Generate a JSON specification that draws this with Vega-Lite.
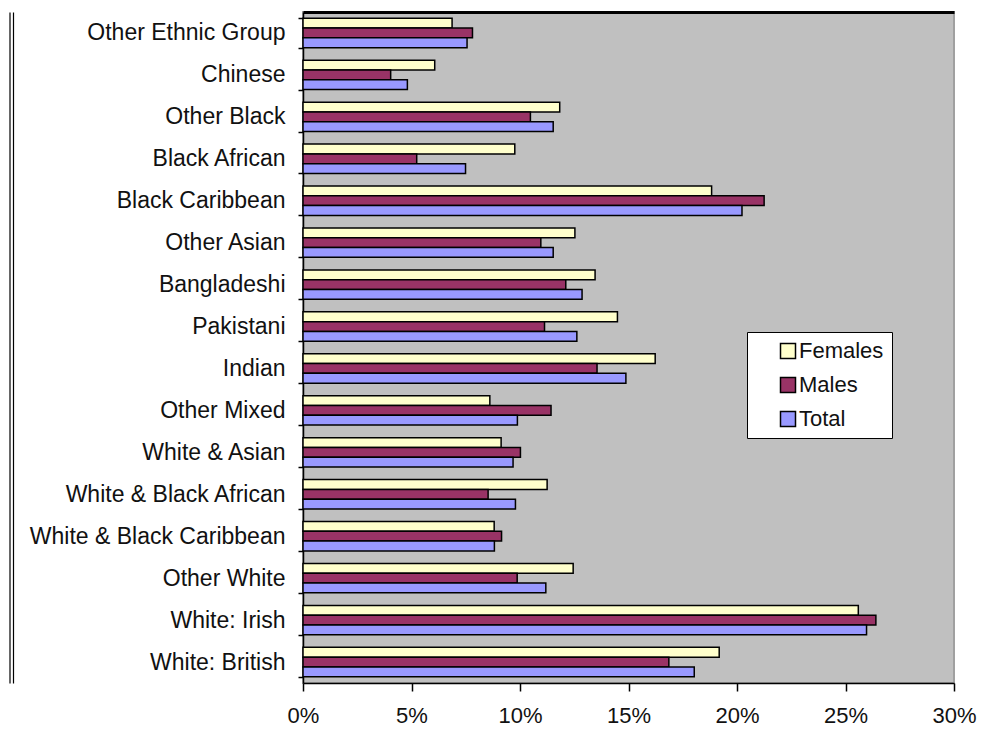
{
  "$schema": "https://vega.github.io/schema/vega-lite/v6.json",
  "width": 651,
  "height": 671,
  "autosize": {"type": "none"},
  "padding": {"left": 303, "top": 12, "right": 38, "bottom": 49},
  "background": "white",
  "config": {
    "view": {"fill": "#C0C0C0", "stroke": "#A0A0A0", "strokeWidth": 2},
    "font": "Liberation Sans"
  },
  "data": {
    "values": [
      {"group": "Other Ethnic Group", "series": "Females", "value": 0.0687},
      {"group": "Other Ethnic Group", "series": "Males", "value": 0.0781},
      {"group": "Other Ethnic Group", "series": "Total", "value": 0.0756},
      {"group": "Chinese", "series": "Females", "value": 0.0607},
      {"group": "Chinese", "series": "Males", "value": 0.0404},
      {"group": "Chinese", "series": "Total", "value": 0.0481},
      {"group": "Other Black", "series": "Females", "value": 0.1183},
      {"group": "Other Black", "series": "Males", "value": 0.1048},
      {"group": "Other Black", "series": "Total", "value": 0.1153},
      {"group": "Black African", "series": "Females", "value": 0.0976},
      {"group": "Black African", "series": "Males", "value": 0.0524},
      {"group": "Black African", "series": "Total", "value": 0.0749},
      {"group": "Black Caribbean", "series": "Females", "value": 0.1883},
      {"group": "Black Caribbean", "series": "Males", "value": 0.2125},
      {"group": "Black Caribbean", "series": "Total", "value": 0.2023},
      {"group": "Other Asian", "series": "Females", "value": 0.1253},
      {"group": "Other Asian", "series": "Males", "value": 0.1096},
      {"group": "Other Asian", "series": "Total", "value": 0.1153},
      {"group": "Bangladeshi", "series": "Females", "value": 0.1346},
      {"group": "Bangladeshi", "series": "Males", "value": 0.1211},
      {"group": "Bangladeshi", "series": "Total", "value": 0.1286},
      {"group": "Pakistani", "series": "Females", "value": 0.1449},
      {"group": "Pakistani", "series": "Males", "value": 0.1113},
      {"group": "Pakistani", "series": "Total", "value": 0.1262},
      {"group": "Indian", "series": "Females", "value": 0.1623},
      {"group": "Indian", "series": "Males", "value": 0.1355},
      {"group": "Indian", "series": "Total", "value": 0.1488},
      {"group": "Other Mixed", "series": "Females", "value": 0.0861},
      {"group": "Other Mixed", "series": "Males", "value": 0.1143},
      {"group": "Other Mixed", "series": "Total", "value": 0.0988},
      {"group": "White & Asian", "series": "Females", "value": 0.0913},
      {"group": "White & Asian", "series": "Males", "value": 0.1002},
      {"group": "White & Asian", "series": "Total", "value": 0.0968},
      {"group": "White & Black African", "series": "Females", "value": 0.1125},
      {"group": "White & Black African", "series": "Males", "value": 0.0853},
      {"group": "White & Black African", "series": "Total", "value": 0.0979},
      {"group": "White & Black Caribbean", "series": "Females", "value": 0.0881},
      {"group": "White & Black Caribbean", "series": "Males", "value": 0.0915},
      {"group": "White & Black Caribbean", "series": "Total", "value": 0.0882},
      {"group": "Other White", "series": "Females", "value": 0.1245},
      {"group": "Other White", "series": "Males", "value": 0.0987},
      {"group": "Other White", "series": "Total", "value": 0.1119},
      {"group": "White: Irish", "series": "Females", "value": 0.2559},
      {"group": "White: Irish", "series": "Males", "value": 0.2640},
      {"group": "White: Irish", "series": "Total", "value": 0.2597},
      {"group": "White: British", "series": "Females", "value": 0.1918},
      {"group": "White: British", "series": "Males", "value": 0.1686},
      {"group": "White: British", "series": "Total", "value": 0.1803}
    ]
  },
  "encoding": {
    "y": {
      "field": "group",
      "type": "nominal",
      "sort": ["Other Ethnic Group", "Chinese", "Other Black", "Black African", "Black Caribbean", "Other Asian", "Bangladeshi", "Pakistani", "Indian", "Other Mixed", "White & Asian", "White & Black African", "White & Black Caribbean", "Other White", "White: Irish", "White: British"],
      "scale": {"paddingInner": 0.3, "paddingOuter": 0.15}
    },
    "x": {
      "field": "value",
      "type": "quantitative",
      "scale": {"domain": [0, 0.3], "nice": false, "zero": true}
    }
  },
  "layer": [
    {
      "mark": {"type": "bar", "opacity": 0},
      "encoding": {
        "x": {
          "field": "value",
          "type": "quantitative",
          "axis": {"orient": "top", "labels": false, "ticks": false, "grid": false, "domainColor": "black", "domainWidth": 3, "title": null}
        },
        "y": {
          "field": "group",
          "type": "nominal",
          "sort": ["Other Ethnic Group", "Chinese", "Other Black", "Black African", "Black Caribbean", "Other Asian", "Bangladeshi", "Pakistani", "Indian", "Other Mixed", "White & Asian", "White & Black African", "White & Black Caribbean", "Other White", "White: Irish", "White: British"],
          "axis": {"orient": "left", "offset": 290, "labels": false, "ticks": false, "grid": false, "domainColor": "black", "domainWidth": 1.2, "title": null}
        }
      }
    },
    {
      "mark": {"type": "bar", "opacity": 0},
      "encoding": {
        "x": {"field": "value", "type": "quantitative", "axis": null},
        "y": {
          "field": "group",
          "type": "nominal",
          "sort": ["Other Ethnic Group", "Chinese", "Other Black", "Black African", "Black Caribbean", "Other Asian", "Bangladeshi", "Pakistani", "Indian", "Other Mixed", "White & Asian", "White & Black African", "White & Black Caribbean", "Other White", "White: Irish", "White: British"],
          "axis": {"orient": "left", "offset": 293.5, "labels": false, "ticks": false, "grid": false, "domainColor": "black", "domainWidth": 1.2, "title": null}
        }
      }
    },
    {
      "mark": {"type": "bar", "stroke": "black", "strokeWidth": 1.5},
      "encoding": {
        "x": {
          "field": "value",
          "type": "quantitative",
          "axis": {
            "orient": "bottom",
            "title": null,
            "format": ".0%",
            "values": [0, 0.05, 0.1, 0.15, 0.2, 0.25, 0.3],
            "grid": false,
            "domainColor": "black",
            "domainWidth": 1.5,
            "tickColor": "black",
            "tickWidth": 1.5,
            "tickSize": 8,
            "labelFontSize": 22,
            "labelColor": "#111111",
            "labelPadding": 14,
            "labelFlush": false
          }
        },
        "y": {
          "field": "group",
          "type": "nominal",
          "sort": ["Other Ethnic Group", "Chinese", "Other Black", "Black African", "Black Caribbean", "Other Asian", "Bangladeshi", "Pakistani", "Indian", "Other Mixed", "White & Asian", "White & Black African", "White & Black Caribbean", "Other White", "White: Irish", "White: British"],
          "axis": {
            "orient": "left",
            "title": null,
            "tickBand": "extent",
            "tickSize": 5,
            "tickColor": "black",
            "tickWidth": 1.5,
            "domainColor": "black",
            "domainWidth": 1.5,
            "labelFontSize": 23,
            "labelColor": "#111111",
            "labelPadding": 13,
            "labelLimit": 400
          }
        },
        "yOffset": {
          "field": "series",
          "type": "nominal",
          "sort": ["Females", "Males", "Total"],
          "scale": {"paddingInner": 0, "paddingOuter": 0}
        },
        "color": {
          "field": "series",
          "type": "nominal",
          "sort": ["Females", "Males", "Total"],
          "scale": {"domain": ["Females", "Males", "Total"], "range": ["#FFFFCC", "#993366", "#9999FF"]},
          "legend": {
            "title": null,
            "orient": "none",
            "legendX": 444,
            "legendY": 320,
            "fillColor": "white",
            "strokeColor": "black",
            "padding": 8,
            "symbolType": "square",
            "symbolSize": 225,
            "symbolStrokeColor": "black",
            "symbolStrokeWidth": 1.5,
            "symbolOffset": 22,
            "labelOffset": 0,
            "labelFontSize": 22,
            "labelColor": "#111111",
            "rowPadding": 12,
            "labelExpr": "datum.label + '\u00a0\u00a0\u00a0\u00a0'"
          }
        }
      }
    }
  ],
  "resolve": {"axis": {"x": "independent", "y": "independent"}}
}
